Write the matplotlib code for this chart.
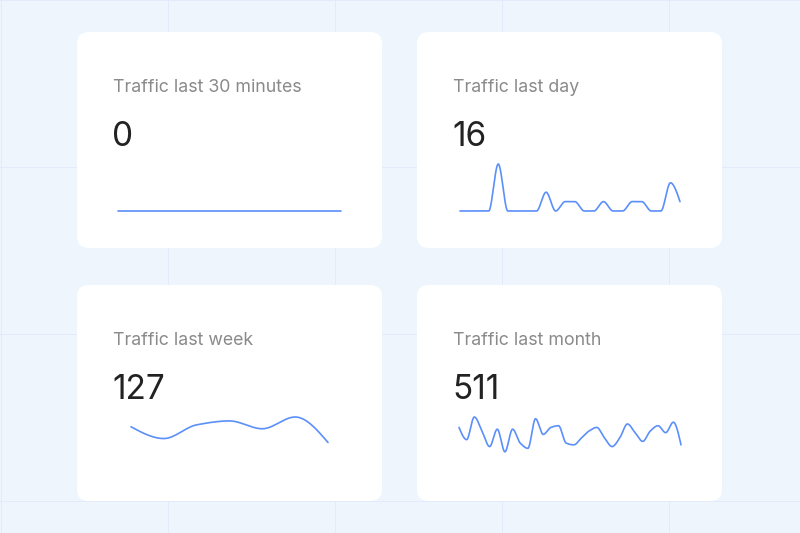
import matplotlib
matplotlib.use('Agg')
import matplotlib.pyplot as plt
import numpy as np
from matplotlib.patches import FancyBboxPatch

plt.rcParams['font.family'] = ['Inter', 'DejaVu Sans']

# data
titles = ['Traffic last 30 minutes', 'Traffic last day', 'Traffic last week', 'Traffic last month']
totals = ['0', '16', '127', '511']
trafficMinutes = [0] * 30
trafficDay = [0, 0, 0, 0, 5, 0, 0, 0, 0, 2, 0, 1, 1, 0, 0, 1, 0, 0, 1, 1, 0, 0, 3, 1]
trafficWeek = [19, 13, 20, 22, 18, 24, 11]
trafficMonth = [21, 14, 27, 19, 10, 20, 7, 20, 12, 9, 26, 17, 21, 22, 12,
                11, 15, 19, 21, 15, 10, 15, 23, 18, 13, 19, 22, 18, 24, 11]
series = [trafficMinutes, trafficDay, trafficWeek, trafficMonth]

W, H = 800, 533
bgColor = '#eef5fd'
gridColor = '#e2ebfa'
lineColor = '#5b8ff9'


# monotone cubic (giống d3 curveMonotoneX)
def monotone(y, n=40):
    y = np.asarray(y, dtype=float)
    x = np.arange(len(y), dtype=float)
    d = np.diff(y)
    m = np.zeros(len(y))
    for i in range(1, len(y) - 1):
        if d[i - 1] * d[i] > 0:
            m[i] = 2 / (1 / d[i - 1] + 1 / d[i])
    m[0] = d[0]
    m[-1] = d[-1]
    if len(y) > 2:
        m[0] = (3 * d[0] - m[1]) / 2 if d[0] * (3 * d[0] - m[1]) > 0 else 0
        m[-1] = (3 * d[-1] - m[-2]) / 2 if d[-1] * (3 * d[-1] - m[-2]) > 0 else 0
    xs, ys = [], []
    for i in range(len(y) - 1):
        t = np.linspace(0, 1, n, endpoint=False)
        h00 = 2 * t**3 - 3 * t**2 + 1
        h10 = t**3 - 2 * t**2 + t
        h01 = -2 * t**3 + 3 * t**2
        h11 = t**3 - t**2
        xs.append(x[i] + t)
        ys.append(h00 * y[i] + h10 * m[i] + h01 * y[i + 1] + h11 * m[i + 1])
    xs.append([x[-1]])
    ys.append([y[-1]])
    return np.concatenate(xs), np.concatenate(ys)


fig = plt.figure(figsize=(W / 100, H / 100), dpi=100)
fig.patch.set_facecolor(bgColor)

bg = fig.add_axes([0, 0, 1, 1])
bg.set_xlim(0, W)
bg.set_ylim(H, 0)
bg.axis('off')

# lưới nền
for g in np.arange(0, W, 167.2):
    bg.axvline(g + 0.5, color=gridColor, lw=0.7, zorder=0)
for g in np.arange(0, H, 167):
    bg.axhline(g - 0.5, color=gridColor, lw=0.7, zorder=0)

cardLeft = [77, 417, 77, 417]
cardTop = [32, 32, 285, 285]
cardW, cardH = 305, 216

# vị trí sparkline (px, tương đối với thẻ)
lineLeft = [41, 43, 54, 42]
lineWidth = [223, 220, 197, 222]

for k in range(4):
    x0, y0 = cardLeft[k], cardTop[k]
    card = FancyBboxPatch((x0 + 12, y0 + 12), cardW - 24, cardH - 24,
                          boxstyle='round,pad=12', fc='white', ec='none', zorder=1)
    bg.add_patch(card)
    bg.text(x0 + 36, y0 + 60, titles[k], fontsize=12.8, color='#8a8a8a',
            va='baseline', ha='left', zorder=2)
    bg.text(x0 + 35, y0 + 114, totals[k], fontsize=24, color='#222222',
            va='baseline', ha='left', zorder=2)

    ax = fig.add_axes([(x0 + lineLeft[k]) / W, 1 - (y0 + 179) / H,
                       lineWidth[k] / W, 47 / H])
    ax.patch.set_alpha(0)
    ax.axis('off')
    xs, ys = monotone(series[k])
    ax.plot(xs, ys, color=lineColor, lw=1.2, clip_on=False, solid_capstyle='round')
    ax.set_xlim(0, len(series[k]) - 1)
    ax.set_ylim(0, max(max(series[k]), 1))

fig.savefig('out.png', dpi=100, facecolor=bgColor)
